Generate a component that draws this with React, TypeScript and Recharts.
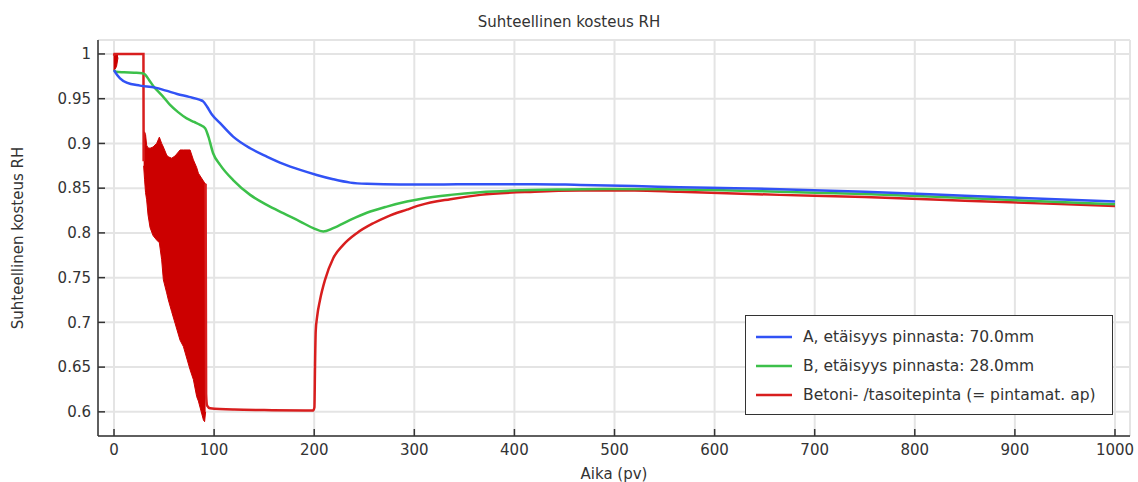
import React from "react";
import {
  ComposedChart,
  Line,
  Area,
  XAxis,
  YAxis,
  CartesianGrid,
} from "recharts";

// A, etäisyys pinnasta 70.0mm
const distAx = [0, 1, 6, 12.6, 26, 41, 52, 63, 75, 86, 89, 93, 98, 106, 119, 136, 152.6, 169, 186, 202.5, 219, 236, 252.6, 286, 320, 366, 420, 466, 520, 565, 620, 665, 750, 850, 1000];
const distAy = [0.982, 0.98, 0.9728, 0.968, 0.9646, 0.9624, 0.959, 0.9553, 0.952, 0.9486, 0.947, 0.941, 0.932, 0.9226, 0.9076, 0.8946, 0.8853, 0.8771, 0.8704, 0.8648, 0.86, 0.8562, 0.8548, 0.854, 0.854, 0.8545, 0.8545, 0.8536, 0.8525, 0.851, 0.85, 0.8488, 0.846, 0.8415, 0.835];

// B, etäisyys pinnasta 28.0mm
const distBx = [0, 2, 10, 20, 28, 31, 35, 40, 45, 50, 56, 64, 72.6, 80, 86, 91, 94.3, 99, 106, 119, 136, 152.6, 169, 186, 199, 209, 219, 236, 252.6, 272.6, 292.6, 306, 336, 366, 399, 450, 499, 550, 599, 665, 750, 850, 1000];
const distBy = [0.982, 0.98, 0.9795, 0.979, 0.9785, 0.977, 0.971, 0.963, 0.957, 0.951, 0.943, 0.935, 0.928, 0.924, 0.9207, 0.917, 0.9076, 0.889, 0.876, 0.859, 0.8425, 0.8313, 0.822, 0.8127, 0.8053, 0.8015, 0.8053, 0.8145, 0.8225, 0.8294, 0.835, 0.838, 0.8425, 0.8455, 0.8473, 0.8485, 0.849, 0.8488, 0.848, 0.846, 0.8435, 0.839, 0.832];

// Betoni- /tasoitepinta, before the oscillation
const surfStartX = [0, 0.5, 4, 29.4, 29.6];
const surfStartY = [0.998, 1.0, 1.0, 1.0, 0.88];

// oscillating part, drawn as its envelope
const surfBandX = [29.6, 30.5, 31.5, 32.6, 34, 36, 39, 42.6, 45.3, 47.6, 49.3, 52.6, 54.3, 57.6, 61, 66, 69.3, 76, 79.3, 82.6, 84.3, 89.3, 90.5, 91.5];
const surfBandLow = [0.875, 0.86, 0.845, 0.837, 0.82, 0.806, 0.797, 0.792, 0.789, 0.77, 0.7475, 0.733, 0.725, 0.712, 0.699, 0.68, 0.673, 0.647, 0.636, 0.617, 0.612, 0.591, 0.589, 0.6];
const surfBandHigh = [0.905, 0.913, 0.91, 0.898, 0.895, 0.8946, 0.896, 0.9, 0.907, 0.9, 0.896, 0.887, 0.885, 0.8835, 0.886, 0.8927, 0.8927, 0.8927, 0.8816, 0.873, 0.8667, 0.858, 0.856, 0.855];

// small spike right at the start
const surfSpikeX = [-0.5, 1, 2.5, 4];
const surfSpikeLow = [0.982, 0.983, 0.986, 0.996];
const surfSpikeHigh = [1.0, 1.0, 1.0, 1.0];

// after the oscillation
const surfEndX = [91.5, 92, 93, 96, 120, 150, 199, 200.2, 200.8, 201.5, 203, 205.8, 210.8, 219, 229, 242.5, 259, 272.6, 292.6, 306, 336, 366, 420, 465, 520, 565, 665, 750, 850, 1000];
const surfEndY = [0.855, 0.62, 0.607, 0.604, 0.6025, 0.602, 0.6015, 0.605, 0.65, 0.69, 0.707, 0.725, 0.7475, 0.7717, 0.7866, 0.7997, 0.8108, 0.818, 0.826, 0.831, 0.8377, 0.8425, 0.846, 0.8473, 0.8475, 0.846, 0.8425, 0.84, 0.836, 0.83];

const xTicks = [0, 100, 200, 300, 400, 500, 600, 700, 800, 900, 1000];
const yTicks = [0.6, 0.65, 0.7, 0.75, 0.8, 0.85, 0.9, 0.95, 1];

const legendItems = [
  { name: "A, etäisyys pinnasta: 70.0mm", color: "#3152f5" },
  { name: "B, etäisyys pinnasta: 28.0mm", color: "#3cc04a" },
  { name: "Betoni- /tasoitepinta (= pintamat. ap)", color: "#d81e1e" },
];

const toPoints = (xs: number[], ys: number[]) => xs.map((x, i) => ({ x, y: ys[i] }));
const toBand = (xs: number[], lo: number[], hi: number[]) =>
  xs.map((x, i) => ({ x, r: [lo[i], hi[i]] }));

const FONT = "'DejaVu Sans', sans-serif";
const frame = { stroke: "#333", strokeWidth: 1.5 };

const App = () => {
  const seriesA = toPoints(distAx, distAy);
  const seriesB = toPoints(distBx, distBy);
  const redStart = toPoints(surfStartX, surfStartY);
  const redEnd = toPoints(surfEndX, surfEndY);
  const redBand = toBand(surfBandX, surfBandLow, surfBandHigh);
  const redSpike = toBand(surfSpikeX, surfSpikeLow, surfSpikeHigh);

  return (
    <div
      style={{
        position: "absolute",
        left: 0,
        top: 0,
        width: 1138,
        height: 482,
        background: "#fff",
        fontFamily: FONT,
        color: "#333",
      }}
    >
      <ComposedChart
        width={1138}
        height={482}
        margin={{ top: 40, right: 8, bottom: 0, left: 0 }}
      >
        <CartesianGrid stroke="#e4e4e4" strokeWidth={2} />
        <XAxis
          type="number"
          dataKey="x"
          domain={[-16, 1015]}
          ticks={xTicks}
          allowDataOverflow
          height={46}
          tickSize={-7}
          tickMargin={15}
          axisLine={frame}
          tickLine={frame}
          tick={{ fill: "#333", fontSize: 15, fontFamily: FONT }}
        />
        <XAxis
          xAxisId="top"
          orientation="top"
          type="number"
          dataKey="x"
          domain={[-16, 1015]}
          ticks={xTicks}
          allowDataOverflow
          height={0}
          tickSize={-7}
          tick={false}
          axisLine={frame}
          tickLine={frame}
        />
        <YAxis
          type="number"
          domain={[0.573, 1.0156]}
          ticks={yTicks}
          allowDataOverflow
          width={98}
          tickSize={-7}
          tickMargin={14}
          axisLine={frame}
          tickLine={frame}
          tick={{ fill: "#333", fontSize: 15, fontFamily: FONT }}
        />
        <YAxis
          yAxisId="right"
          orientation="right"
          type="number"
          domain={[0.573, 1.0156]}
          ticks={yTicks}
          allowDataOverflow
          width={0}
          tickSize={-7}
          tick={false}
          axisLine={frame}
          tickLine={frame}
        />
        <Area
          data={redSpike}
          dataKey="r"
          type="linear"
          stroke="#cc0000"
          strokeWidth={1}
          fill="#cc0000"
          fillOpacity={1}
          dot={false}
          activeDot={false}
          isAnimationActive={false}
        />
        <Area
          data={redBand}
          dataKey="r"
          type="linear"
          stroke="#cc0000"
          strokeWidth={1}
          fill="#cc0000"
          fillOpacity={1}
          dot={false}
          activeDot={false}
          isAnimationActive={false}
        />
        <Line
          data={redStart}
          dataKey="y"
          type="linear"
          stroke="#d81e1e"
          strokeWidth={2.5}
          dot={false}
          activeDot={false}
          isAnimationActive={false}
        />
        <Line
          data={redEnd}
          dataKey="y"
          type="monotone"
          stroke="#d81e1e"
          strokeWidth={2.5}
          dot={false}
          activeDot={false}
          isAnimationActive={false}
        />
        <Line
          data={seriesB}
          dataKey="y"
          type="monotone"
          stroke="#3cc04a"
          strokeWidth={2.5}
          dot={false}
          activeDot={false}
          isAnimationActive={false}
        />
        <Line
          data={seriesA}
          dataKey="y"
          type="monotone"
          stroke="#3152f5"
          strokeWidth={2.5}
          dot={false}
          activeDot={false}
          isAnimationActive={false}
        />
      </ComposedChart>

      {/* title and axis titles */}
      <div
        style={{
          position: "absolute",
          left: 0,
          width: 1138,
          top: 12,
          textAlign: "center",
          fontSize: 15,
          lineHeight: "20px",
        }}
      >
        Suhteellinen kosteus RH
      </div>
      <div
        style={{
          position: "absolute",
          left: 514,
          width: 200,
          top: 464,
          textAlign: "center",
          fontSize: 15,
          lineHeight: "20px",
        }}
      >
        Aika (pv)
      </div>
      <div
        style={{
          position: "absolute",
          left: 18 - 150,
          top: 238 - 10,
          width: 300,
          textAlign: "center",
          fontSize: 15,
          lineHeight: "20px",
          transform: "rotate(-90deg)",
        }}
      >
        Suhteellinen kosteus RH
      </div>

      {/* legend box */}
      <div
        style={{
          position: "absolute",
          left: 745,
          top: 315,
          width: 368,
          height: 100,
          boxSizing: "border-box",
          border: "1.5px solid #333",
          background: "#fff",
          paddingTop: 6,
        }}
      >
        {legendItems.map((item) => (
          <div
            key={item.name}
            style={{ display: "flex", alignItems: "center", height: 29, fontSize: 15.5 }}
          >
            <svg width={57} height={10}>
              <line x1={10} y1={5} x2={46} y2={5} stroke={item.color} strokeWidth={2.5} />
            </svg>
            <span style={{ whiteSpace: "nowrap" }}>{item.name}</span>
          </div>
        ))}
      </div>
    </div>
  );
};

export default App;
